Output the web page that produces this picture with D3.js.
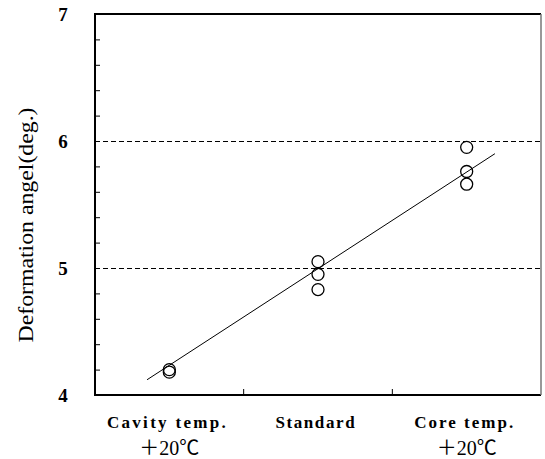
<!DOCTYPE html>
<html>
<head>
<meta charset="utf-8">
<script src="https://cdn.jsdelivr.net/npm/d3@7"></script>
<style>
  body { margin: 0; background: #fff; }
  svg { display: block; }
</style>
</head>
<body>
<div class="chart"></div>
<script>
var svgWidth = 545;
var svgHeight = 459;

var margin = { top: 14, right: 4, bottom: 64, left: 95 };
var width = svgWidth - margin.left - margin.right;
var height = svgHeight - margin.top - margin.bottom;

// data
var categories = ["Cavity temp.", "Standard", "Core temp."];
var subLabels = ["\uFF0B20\u2103", "", "\uFF0B20\u2103"];
var pointCat = [0, 0, 1, 1, 1, 2, 2, 2];
var pointVal = [4.20, 4.18, 5.05, 4.95, 4.83, 5.95, 5.76, 5.66];
var fitX = [-0.15, 2.19];
var fitY = [4.12, 5.90];
var yTicks = [4, 5, 6, 7];
var gridTicks = [5, 6];

var svg = d3.select(".chart")
  .append("svg")
  .attr("width", svgWidth)
  .attr("height", svgHeight);

var chartGroup = svg.append("g")
  .attr("transform", `translate(${margin.left}, ${margin.top})`);

var xBand = d3.scaleBand()
  .domain(d3.range(categories.length))
  .range([0, width]);

// linear x over category index (centre of band)
var xLinear = d3.scaleLinear()
  .domain([0, 2])
  .range([xBand(0) + xBand.bandwidth() / 2, xBand(2) + xBand.bandwidth() / 2]);

var yLinearScale = d3.scaleLinear()
  .domain([4, 7])
  .range([height, 0]);

// dashed grid lines
chartGroup.selectAll(".grid")
  .data(gridTicks)
  .enter()
  .append("line")
  .attr("x1", 0)
  .attr("x2", width)
  .attr("y1", d => Math.round(yLinearScale(d)) + 0.5)
  .attr("y2", d => Math.round(yLinearScale(d)) + 0.5)
  .attr("stroke", "#000")
  .attr("stroke-width", 1)
  .attr("stroke-dasharray", "5,3");

// minor ticks on left axis (inward)
var leftAxis = d3.axisRight(yLinearScale)
  .tickValues(d3.range(4, 7.01, 0.2))
  .tickSize(5)
  .tickFormat("");
var yAxis = chartGroup.append("g").call(leftAxis);
yAxis.select(".domain").remove();
yAxis.selectAll("line").attr("stroke", "#000");

// y tick labels
chartGroup.selectAll(".ylab")
  .data(yTicks)
  .enter()
  .append("text")
  .attr("x", -32)
  .attr("y", d => yLinearScale(d))
  .attr("dy", "0.36em")
  .attr("text-anchor", "middle")
  .attr("font-family", "Liberation Serif, serif")
  .attr("font-weight", "bold")
  .attr("font-size", "19px")
  .text(d => d);

// x ticks at category boundaries (inward)
chartGroup.selectAll(".xtick")
  .data([1, 2])
  .enter()
  .append("line")
  .attr("x1", d => xBand(d))
  .attr("x2", d => xBand(d))
  .attr("y1", height)
  .attr("y2", height - 6)
  .attr("stroke", "#000");

// frame
chartGroup.append("path")
  .attr("d", `M${width},0 H0 V${height} H${width}`)
  .attr("fill", "none")
  .attr("stroke", "#000")
  .attr("stroke-width", 2);
chartGroup.append("line")
  .attr("x1", width).attr("x2", width)
  .attr("y1", 0).attr("y2", height)
  .attr("stroke", "#777")
  .attr("stroke-width", 1.5);

// fit line
var line = d3.line()
  .x(d => xLinear(d[0]))
  .y(d => yLinearScale(d[1]));
chartGroup.append("path")
  .datum(d3.zip(fitX, fitY))
  .attr("d", line)
  .attr("fill", "none")
  .attr("stroke", "#000")
  .attr("stroke-width", 1);

// points
chartGroup.selectAll("circle")
  .data(d3.zip(pointCat, pointVal))
  .enter()
  .append("circle")
  .attr("cx", d => xLinear(d[0]))
  .attr("cy", d => yLinearScale(d[1]))
  .attr("r", 6)
  .attr("fill", "none")
  .attr("stroke", "#000")
  .attr("stroke-width", 1.3);

// x labels (serif, spread out like a monospaced mincho)
var xlabels = chartGroup.selectAll(".xlab")
  .data(d3.range(categories.length))
  .enter()
  .append("g")
  .attr("transform", d => `translate(${xLinear(d) - 3}, ${height})`);

xlabels.append("text")
  .attr("y", 33)
  .attr("text-anchor", "middle")
  .attr("font-family", "Liberation Serif, serif")
  .attr("font-weight", "bold")
  .attr("font-size", "17px")
  .attr("textLength", d => categories[d].length * 9.9)
  .attr("lengthAdjust", "spacing")
  .text(d => categories[d]);

xlabels.append("text")
  .attr("y", 60)
  .attr("x", 3)
  .attr("text-anchor", "middle")
  .attr("font-family", "Liberation Serif, 'Noto Sans CJK JP', serif")
  .attr("font-size", "20px")
  .text(d => subLabels[d]);

// y axis title
svg.append("text")
  .attr("transform", "rotate(-90)")
  .attr("x", -225)
  .attr("y", 33)
  .attr("text-anchor", "middle")
  .attr("font-family", "Liberation Serif, serif")
  .attr("font-size", "20px")
  .attr("textLength", 235)
  .attr("lengthAdjust", "spacingAndGlyphs")
  .text("Deformation angel(deg.)");
</script>
</body>
</html>
